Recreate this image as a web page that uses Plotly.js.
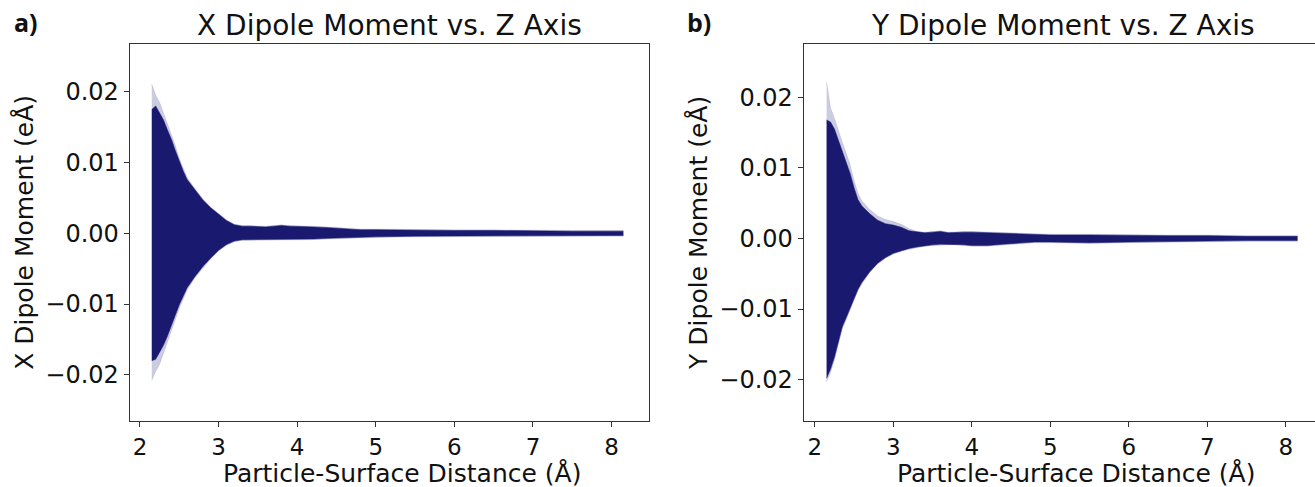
<!DOCTYPE html>
<html><head><meta charset="utf-8">
<script src="https://cdn.plot.ly/plotly-3.0.1.min.js"></script>
<style>html,body{margin:0;padding:0;overflow:hidden;background:#fff}#chart{width:1325px;height:487px}</style>
</head><body><div id="chart"></div><script>
// Particle-surface distance samples (Å)
const distance = [2.15,2.20,2.25,2.30,2.35,2.40,2.45,2.50,2.55,2.60,
  2.7,2.8,2.9,3.0,3.1,3.2,3.3,3.4,3.5,3.6,3.7,3.8,3.9,4.0,
  4.2,4.4,4.6,4.8,5.0,5.5,6.0,6.5,7.0,7.5,8.15];

// Panel a) X dipole moment envelope (eÅ): dense core and sparse outer points
const xDipoleUpper = [0.0175,0.0180,0.0170,0.0160,0.0146,0.0133,0.0117,0.0101,0.0088,0.0076,
  0.0061,0.0047,0.0036,0.0027,0.0018,0.0012,0.0010,0.0010,0.0009,0.0009,0.0010,0.0011,0.0010,0.0010,
  0.0009,0.0008,0.0006,0.0005,0.0005,0.0004,0.0004,0.0004,0.0003,0.0003,0.0003];
const xDipoleLower = [-0.0180,-0.0178,-0.0168,-0.0158,-0.0145,-0.0130,-0.0115,-0.0101,-0.0089,-0.0077,
  -0.0061,-0.0047,-0.0035,-0.0024,-0.0016,-0.0011,-0.0009,-0.0009,-0.0009,-0.0009,-0.0009,-0.0009,-0.0009,-0.0009,
  -0.0008,-0.0007,-0.0006,-0.0005,-0.0005,-0.0004,-0.0004,-0.0004,-0.0003,-0.0003,-0.0003];
const xDipoleOuterUpper = [0.0211,0.0195,0.0185,0.0170,0.0156,0.0141,0.0124,0.0106,0.0091,0.0079,
  0.0063,0.0049,0.0037,0.0028,0.0019,0.0013,0.0011,0.0011,0.0010,0.0010,0.0011,0.0012,0.0011,0.0011,
  0.0010,0.0009,0.0007,0.0006,0.0006,0.0005,0.0005,0.0005,0.0004,0.0004,0.0004];
const xDipoleOuterLower = [-0.0208,-0.0195,-0.0185,-0.0170,-0.0155,-0.0140,-0.0122,-0.0106,-0.0093,-0.0080,
  -0.0063,-0.0049,-0.0036,-0.0025,-0.0017,-0.0012,-0.0010,-0.0010,-0.0010,-0.0010,-0.0010,-0.0010,-0.0010,-0.0010,
  -0.0009,-0.0008,-0.0007,-0.0006,-0.0006,-0.0005,-0.0005,-0.0005,-0.0004,-0.0004,-0.0004];

// Panel b) Y dipole moment envelope (eÅ)
const yDipoleUpper = [0.0168,0.0165,0.0155,0.0139,0.0123,0.0108,0.0092,0.0072,0.0055,0.0046,
  0.0035,0.0026,0.0021,0.0019,0.0016,0.0011,0.0009,0.0008,0.0009,0.0010,0.0008,0.0009,0.0009,0.0009,
  0.0008,0.0007,0.0006,0.0006,0.0005,0.0005,0.0004,0.0004,0.0004,0.0003,0.0003];
const yDipoleLower = [-0.0198,-0.0185,-0.0168,-0.0145,-0.0125,-0.0112,-0.0098,-0.0085,-0.0072,-0.0062,
  -0.0047,-0.0035,-0.0027,-0.0021,-0.0017,-0.0014,-0.0012,-0.0010,-0.0009,-0.0008,-0.0008,-0.0008,-0.0009,-0.0010,
  -0.0010,-0.0008,-0.0006,-0.0005,-0.0005,-0.0006,-0.0005,-0.0004,-0.0004,-0.0003,-0.0003];
const yDipoleOuterUpper = [0.0222,0.0185,0.0170,0.0152,0.0136,0.0121,0.0104,0.0082,0.0064,0.0053,
  0.0041,0.0032,0.0027,0.0024,0.0020,0.0014,0.0010,0.0009,0.0010,0.0011,0.0009,0.0010,0.0010,0.0010,
  0.0009,0.0008,0.0007,0.0007,0.0006,0.0006,0.0005,0.0005,0.0005,0.0004,0.0004];
const yDipoleOuterLower = [-0.0203,-0.0190,-0.0172,-0.0149,-0.0128,-0.0115,-0.0100,-0.0087,-0.0074,-0.0064,
  -0.0048,-0.0036,-0.0028,-0.0022,-0.0018,-0.0015,-0.0013,-0.0011,-0.0010,-0.0009,-0.0009,-0.0009,-0.0010,-0.0011,
  -0.0011,-0.0009,-0.0007,-0.0006,-0.0006,-0.0007,-0.0006,-0.0005,-0.0005,-0.0004,-0.0004];

const xTickVals = [2,3,4,5,6,7,8];
const xTickText = ["2","3","4","5","6","7","8"];
const yTickVals = [-0.02,-0.01,0,0.01,0.02];
const yTickText = ["\u22120.02","\u22120.01","0.00","0.01","0.02"];
const xLabel = "Particle-Surface Distance (Å)";

const NAVY = "#191970";
const FAINT = "rgba(25,25,112,0.22)";
const FONT = "DejaVu Sans, sans-serif";

function band(lower, upper, xa, ya, fillcolor) {
  return [
    {x: distance, y: lower, xaxis: xa, yaxis: ya, type: "scatter", mode: "lines",
     line: {width: 0.5, color: fillcolor}, hoverinfo: "skip", showlegend: false},
    {x: distance, y: upper, xaxis: xa, yaxis: ya, type: "scatter", mode: "lines",
     fill: "tonexty", fillcolor: fillcolor,
     line: {width: 0.5, color: fillcolor}, hoverinfo: "skip", showlegend: false}
  ];
}

const data = [].concat(
  band(xDipoleOuterLower, xDipoleOuterUpper, "x", "y", FAINT),
  band(xDipoleLower, xDipoleUpper, "x", "y", NAVY),
  band(yDipoleOuterLower, yDipoleOuterUpper, "x2", "y2", FAINT),
  band(yDipoleLower, yDipoleUpper, "x2", "y2", NAVY)
);

const W = 1325, H = 487;
function xAxis(domain, range, anchor) {
  return {domain: domain, range: range, anchor: anchor, tickvals: xTickVals, ticktext: xTickText,
    ticks: "outside", ticklen: 5, tickwidth: 1, tickcolor: "#333", showgrid: false, zeroline: false,
    showline: true, linecolor: "#333", linewidth: 1.3, mirror: true,
    tickfont: {family: FONT, size: 23, color: "#111"}};
}
function yAxis(domain, range, anchor, label) {
  return {domain: domain, range: range, anchor: anchor, tickvals: yTickVals, ticktext: yTickText,
    ticks: "outside", ticklen: 5, tickwidth: 1, tickcolor: "#333", showgrid: false, zeroline: false,
    showline: true, linecolor: "#333", linewidth: 1.3, mirror: true,
    tickfont: {family: FONT, size: 24, color: "#111"},
    title: {text: label, font: {family: FONT, size: 25, color: "#111"}, standoff: 4}};
}
const yDom = [(H - 420.7) / H, (H - 44) / H];
function note(text, xpx, ypx, size, family, anchor) {
  return {text: text, x: xpx / W, y: 1 - ypx / H, xref: "paper", yref: "paper",
    xanchor: anchor, yanchor: "middle", showarrow: false,
    font: {family: family, size: size, color: "#111"}};
}
const layout = {
  width: W, height: H, margin: {l: 0, r: 0, t: 0, b: 0},
  paper_bgcolor: "#fff", plot_bgcolor: "#fff", showlegend: false,
  font: {family: FONT},
  xaxis: xAxis([130 / W, 649 / W], [1.873, 8.476], "y"),
  yaxis: yAxis(yDom, [-0.02649, 0.02676], "x", "X Dipole Moment (eÅ)"),
  xaxis2: xAxis([804 / W, 1323 / W], [1.862, 8.474], "y2"),
  yaxis2: yAxis(yDom, [-0.02581, 0.02755], "x2", "Y Dipole Moment (eÅ)"),
  annotations: [
    note("X Dipole Moment vs. Z Axis", 389.5, 25, 28, FONT, "center"),
    note("Y Dipole Moment vs. Z Axis", 1063, 25, 28, FONT, "center"),
    note(xLabel, 402, 473, 25, FONT, "center"),
    note(xLabel, 1076, 473, 25, FONT, "center"),
    note("<b>a)</b>", 12, 22, 25, "Open Sans, sans-serif", "left"),
    note("<b>b)</b>", 685, 22, 25, "Open Sans, sans-serif", "left")
  ]
};
Plotly.newPlot("chart", data, layout, {staticPlot: true, displayModeBar: false});
</script></body></html>
